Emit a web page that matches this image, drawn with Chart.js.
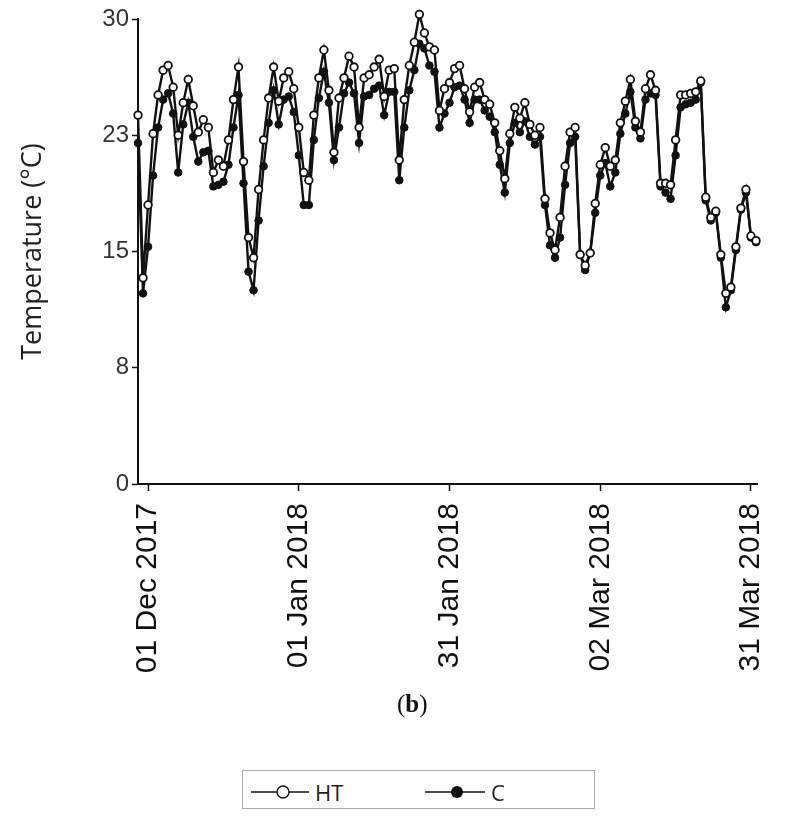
<!DOCTYPE html>
<html>
<head>
<meta charset="utf-8">
<script src="https://cdn.jsdelivr.net/npm/chart.js@4/dist/chart.umd.min.js"></script>
<style>
  body { margin: 0; background: #fff; }
  #wrap { position: relative; width: 786px; height: 824px; }
  #box { position: absolute; left: 0; top: 0; width: 786px; height: 700px; }
  #panel { position: absolute; left: 397px; top: 690px; font: bold 25px "Liberation Serif", serif; color: #111; }
  #panel span { font-weight: normal; }
  #legend { position: absolute; left: 242px; top: 770px; width: 353px; height: 39px; border: 1px solid #aaa; box-sizing: border-box; }
  .item { position: absolute; top: 6px; font: 22px "Open Sans", sans-serif; color: #222; display: flex; align-items: center; }
  .item svg { margin-right: 6px; }
</style>
</head>
<body>
<div id="wrap">
  <div id="box"><canvas id="chart"></canvas></div>
  <div id="panel"><span>(</span>b<span>)</span></div>
  <div id="legend">
    <div class="item" style="left:8px"><svg width="58" height="16"><line x1="0" y1="8" x2="58" y2="8" stroke="#111" stroke-width="1.6"/><circle cx="32" cy="8" r="6" fill="#fff" stroke="#111" stroke-width="1.4"/></svg>HT</div>
    <div class="item" style="left:182px"><svg width="60" height="16"><line x1="0" y1="8" x2="60" y2="8" stroke="#111" stroke-width="1.6"/><circle cx="32" cy="8" r="6" fill="#111"/></svg>C</div>
  </div>
</div>
<script>
// daily values, first point = 29 Nov 2017 (day -2), last = 31 Mar 2018 (day 121)
const firstDay = -2;
const htTemps = [
  23.8, 13.3, 18.0, 22.6, 25.1, 26.7, 27.0, 25.6, 22.5, 24.6,
  26.1, 24.4, 22.7, 23.5, 23.0, 20.1, 20.9, 20.5, 22.2, 24.8,
  26.9, 20.8, 15.9, 14.6, 19.0, 22.2, 24.9, 26.9, 24.7, 26.2,
  26.6, 25.5, 23.0, 20.1, 19.6, 23.8, 26.2, 28.0, 25.4, 21.4,
  24.9, 26.2, 27.6, 26.9, 23.0, 26.2, 26.4, 26.9, 27.4, 25.0,
  26.7, 26.8, 20.9, 24.8, 27.0, 28.5, 30.3, 29.1, 28.2, 28.0,
  24.1, 25.5, 25.9, 26.8, 27.0, 25.5, 24.0, 25.6, 25.9, 24.8,
  24.5, 23.3, 21.5, 19.7, 22.6, 24.3, 23.6, 24.6, 23.2, 22.5,
  23.0, 18.4, 16.2, 15.1, 17.2, 20.5, 22.7, 23.0, 14.8, 14.1,
  14.9, 18.1, 20.6, 21.7, 20.5, 20.9, 23.3, 24.7, 26.1, 23.4,
  22.7, 25.5, 26.4, 25.4, 19.4, 19.4, 19.3, 22.2, 25.1, 25.1,
  25.2, 25.3, 26.0, 18.5, 17.2, 17.6, 14.8, 12.3, 12.7, 15.3,
  17.8, 19.0, 16.0, 15.7
];
const cTemps = [
  22.0, 12.3, 15.3, 19.9, 23.0, 24.8, 25.2, 23.9, 20.1, 23.2,
  24.6, 22.4, 20.8, 21.4, 21.5, 19.2, 19.3, 19.5, 20.6, 23.0,
  25.1, 19.4, 13.7, 12.5, 17.0, 20.5, 23.3, 25.4, 23.2, 24.8,
  25.0, 24.0, 21.2, 18.0, 18.0, 22.2, 24.9, 26.6, 24.6, 20.9,
  23.0, 25.2, 25.9, 25.2, 22.0, 25.0, 25.1, 25.5, 25.7, 23.8,
  25.3, 25.3, 19.6, 23.0, 25.4, 26.7, 28.4, 28.1, 27.0, 26.6,
  23.0, 23.9, 24.6, 25.6, 25.7, 24.8, 23.3, 24.8, 24.8, 24.1,
  23.7, 22.7, 20.6, 18.8, 22.0, 23.3, 22.7, 23.4, 22.4, 21.9,
  22.4, 18.0, 15.4, 14.6, 15.9, 19.3, 22.0, 22.4, 14.8, 13.8,
  14.9, 17.5, 19.9, 20.7, 19.2, 20.1, 22.6, 23.9, 25.3, 23.0,
  22.3, 24.8, 25.2, 25.1, 19.2, 18.8, 18.4, 21.2, 24.3, 24.5,
  24.6, 24.8, 25.9, 18.3, 17.0, 17.5, 14.6, 11.4, 12.5, 15.1,
  17.7, 18.8, 15.9, 15.6
];
const tickDays = [0, 30, 60, 90, 120];
const tickLabels = ['01 Dec 2017', '01 Jan 2018', '31 Jan 2018', '02 Mar 2018', '31 Mar 2018'];
const yTicks = [0, 7.5, 15, 22.5, 30];

const toPoints = arr => arr.map((v, i) => ({ x: firstDay + i, y: v }));

new Chart(document.getElementById('chart'), {
  type: 'line',
  data: {
    datasets: [
      {
        label: 'HT', data: toPoints(htTemps), clip: false,
        borderColor: '#111', borderWidth: 2.4,
        pointRadius: 3.8, pointBorderWidth: 1.8,
        pointBackgroundColor: '#fff', pointBorderColor: '#111'
      },
      {
        label: 'C', data: toPoints(cTemps), clip: false,
        borderColor: '#111', borderWidth: 2.4,
        pointRadius: 3.8, pointBorderWidth: 1,
        pointBackgroundColor: '#111', pointBorderColor: '#111'
      }
    ]
  },
  options: {
    responsive: true,
    maintainAspectRatio: false,
    animation: false,
    layout: { padding: { top: 19, right: 29, left: 0, bottom: 0 } },
    plugins: { legend: { display: false }, tooltip: { enabled: false } },
    scales: {
      x: {
        type: 'linear',
        min: -2, max: 121.2,
        afterBuildTicks: scale => { scale.ticks = tickDays.map(v => ({ value: v })); },
        afterFit: scale => {
          // keep the plot width fixed, do not let the rotated labels push it in
          scale.height = 216;
          scale.paddingLeft = 0;
          scale.paddingRight = 0;
        },
        grid: { drawOnChartArea: false, drawTicks: true, tickLength: 7, color: '#111', tickWidth: 1.5 },
        border: { color: '#111', width: 2 },
        ticks: {
          minRotation: 90, maxRotation: 90, padding: 12,
          color: '#111',
          font: { family: 'Liberation Sans', size: 30 },
          callback: v => tickLabels[tickDays.indexOf(v)]
        }
      },
      y: {
        min: 0, max: 30,
        afterBuildTicks: scale => { scale.ticks = yTicks.map(v => ({ value: v })); },
        afterFit: scale => { scale.width = 138; },
        grid: { drawOnChartArea: false, drawTicks: true, tickLength: 6, color: '#111', tickWidth: 1.5 },
        border: { color: '#111', width: 2 },
        ticks: {
          color: '#333', padding: 3,
          font: { family: 'Liberation Sans', size: 24 },
          callback: v => Math.round(v)
        },
        title: {
          display: true, text: 'Temperature (°C)',
          color: '#222', padding: { top: 17, bottom: 0 },
          font: { family: 'Open Sans', size: 27 }
        }
      }
    }
  }
});
</script>
</body>
</html>
